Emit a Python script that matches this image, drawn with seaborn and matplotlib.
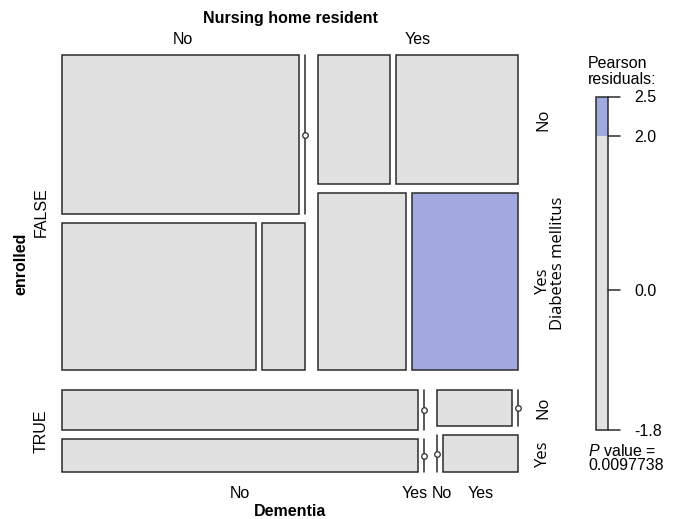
import numpy as np
import matplotlib
matplotlib.use("Agg")
import matplotlib.pyplot as plt
from matplotlib.patches import Rectangle
import seaborn as sns

# data: counts as diabetes x dementia tables per enrolled / nursing home group
enrolled = ["FALSE", "TRUE"]
nursing = ["No", "Yes"]
diabetes = ["No", "Yes"]
dementia = ["No", "Yes"]
counts_false_no = [[12, 0], [9, 2]]
counts_false_yes = [[3, 5], [5, 6]]
counts_true_no = [[5, 0], [4, 0]]
counts_true_yes = [[1, 0], [0, 1]]
p_value = 0.0097738

var_names = ["enrolled", "Nursing home resident", "Diabetes mellitus", "Dementia"]

tab = np.array([[counts_false_no, counts_false_yes],
                [counts_true_no, counts_true_yes]], dtype=float)

# pearson residuals under mutual independence
N = tab.sum()
m1 = tab.sum(axis=(1, 2, 3)) / N
m2 = tab.sum(axis=(0, 2, 3)) / N
m3 = tab.sum(axis=(0, 1, 3)) / N
m4 = tab.sum(axis=(0, 1, 2)) / N
expected = N * np.einsum("i,j,k,l->ijkl", m1, m2, m3, m4)
resid = (tab - expected) / np.sqrt(expected)

sns.set_theme(style="white")
plt.rcParams["font.family"] = ["Liberation Sans", "DejaVu Sans"]
plt.rcParams["text.color"] = "black"
plt.rcParams["mathtext.fontset"] = "custom"
plt.rcParams["mathtext.it"] = "Liberation Sans:italic"
plt.rcParams["mathtext.rm"] = "Liberation Sans"

GRAY = "#E1E1E1"
BLUE = "#A1A9DF"
EDGE = "#2b2b2b"

fig = plt.figure(figsize=(6.77, 5.19), dpi=100)
ax = fig.add_axes([0, 0, 1, 1])
ax.set_xlim(0, 677)
ax.set_ylim(519, 0)
ax.axis("off")

# mosaic layout box and gaps per split level (pixels)
X0, Y0, W, H = 62, 55, 456, 417
gaps = [20, 13, 9, 6]
direction = ["v", "h", "v", "h"]
cells = {}


def split(x, y, w, h, level, idx):
    if level == 4:
        cells[idx] = (x, y, w, h)
        return
    sub = tab[idx]
    marg = sub.reshape(sub.shape[0], -1).sum(axis=1)
    k = len(marg)
    if direction[level] == "h":
        avail = w - gaps[level] * (k - 1)
        pos = x
        for i in range(k):
            cw = avail * marg[i] / marg.sum() if marg.sum() > 0 else 0
            split(pos, y, cw, h, level + 1, idx + (i,))
            pos += cw + gaps[level]
    else:
        avail = h - gaps[level] * (k - 1)
        pos = y
        for i in range(k):
            ch = avail * marg[i] / marg.sum() if marg.sum() > 0 else 0
            split(x, pos, w, ch, level + 1, idx + (i,))
            pos += ch + gaps[level]


split(X0, Y0, W, H, 0, ())


def colour(r):
    if r > 2:
        return BLUE
    return GRAY


for key, (x, y, w, h) in cells.items():
    if w < 0.5:
        ax.plot([x, x], [y, y + h], color=EDGE, lw=1.1)
        ax.plot(x, y + h / 2, "o", ms=4, mfc="white", mec=EDGE, mew=0.9)
    elif h < 0.5:
        ax.plot([x, x + w], [y, y], color=EDGE, lw=1.1)
        ax.plot(x + w / 2, y, "o", ms=4, mfc="white", mec=EDGE, mew=0.9)
    else:
        ax.add_patch(Rectangle((x, y), w, h, facecolor=colour(resid[key]),
                               edgecolor=EDGE, lw=1.1))


def span(keys, axis):
    lo = min(cells[k][axis] for k in keys)
    hi = max(cells[k][axis] + cells[k][axis + 2] for k in keys)
    return lo, hi


lab_fs = 11.5
name_fs = 11.5

# top: nursing home labels from first enrolled row
ax.text(X0 + W / 2, 19, var_names[1], ha="center", va="center",
        fontsize=name_fs, fontweight="bold")
for j, lab in enumerate(nursing):
    keys = [k for k in cells if k[0] == 0 and k[1] == j]
    lo, hi = span(keys, 0)
    ax.text((lo + hi) / 2, 39, lab, ha="center", va="center", fontsize=lab_fs)

# left: enrolled
ax.text(21, Y0 + H / 2, var_names[0], ha="center", va="center", rotation=90,
        fontsize=name_fs, fontweight="bold")
for i, lab in enumerate(enrolled):
    keys = [k for k in cells if k[0] == i]
    lo, hi = span(keys, 1)
    ax.text(41, (lo + hi) / 2, lab, ha="center", va="center", rotation=90,
            fontsize=lab_fs)

# right: diabetes, from last nursing column
ax.text(558, Y0 + H / 2, var_names[2], ha="center", va="center", rotation=90,
        fontsize=12, family="Open Sans")
for i in range(len(enrolled)):
    for d, lab in enumerate(diabetes):
        keys = [k for k in cells if k[0] == i and k[1] == len(nursing) - 1 and k[2] == d]
        lo, hi = span(keys, 1)
        ax.text(543, (lo + hi) / 2, lab, ha="center", va="center", rotation=90,
                fontsize=12, family="Open Sans")

# bottom: dementia, from last enrolled row / last diabetes level
ax.text(X0 + W / 2, 511, var_names[3], ha="center", va="center",
        fontsize=name_fs, fontweight="bold")
for j in range(len(nursing)):
    for m, lab in enumerate(dementia):
        x, y, w, h = cells[(len(enrolled) - 1, j, len(diabetes) - 1, m)]
        if w < 0.5:
            if m == len(dementia) - 1:
                ax.text(x + 3, 494, lab, ha="right", va="center", fontsize=lab_fs)
            else:
                ax.text(x - 6, 494, lab, ha="left", va="center", fontsize=lab_fs)
        else:
            ax.text(x + w / 2, 494, lab, ha="center", va="center", fontsize=lab_fs)

# legend bar
rmin, rmax = resid.min(), resid.max()
LX, LW, LT, LB = 596, 12, 97, 430


def ly(v):
    return LT + (rmax - v) / (rmax - rmin) * (LB - LT)


ax.add_patch(Rectangle((LX, ly(2)), LW, ly(rmin) - ly(2), facecolor=GRAY, edgecolor="none"))
ax.add_patch(Rectangle((LX, ly(rmax)), LW, ly(2) - ly(rmax), facecolor=BLUE, edgecolor="none"))
ax.add_patch(Rectangle((LX, LT), LW, LB - LT, facecolor="none", edgecolor=EDGE, lw=1.1))
for v in [rmax, 2.0, 0.0, rmin]:
    ax.plot([LX + LW, LX + LW + 12], [ly(v), ly(v)], color=EDGE, lw=1.1)
    ax.text(634, ly(v) + 1, f"{v:.1f}", ha="left", va="center", fontsize=11.5)

ax.text(588, 63, "Pearson", ha="left", va="center", fontsize=11.5)
ax.text(588, 80, "residuals:", ha="left", va="center", fontsize=11.5)
ax.text(588, 451, r"$\it{P}$ value =", ha="left", va="center", fontsize=11.5)
ax.text(588, 465, f"{p_value:.7f}", ha="left", va="center", fontsize=11.5)

fig.savefig("out.png", dpi=100)
